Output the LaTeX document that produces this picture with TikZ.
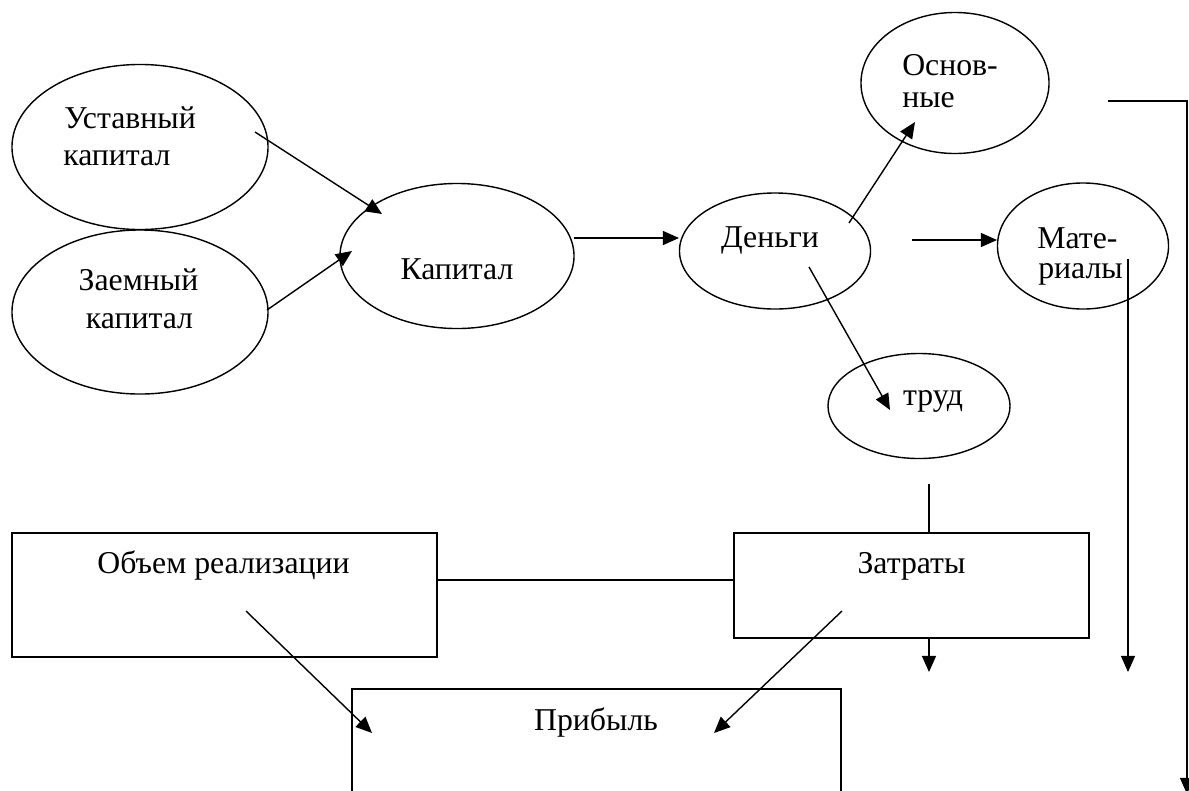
\documentclass[tikz,border=0pt]{standalone}
\usepackage{fontspec}
\setmainfont{Liberation Serif}
\usetikzlibrary{shapes.geometric,arrows.meta}
\begin{document}
\begin{tikzpicture}[x=0.025cm,y=-0.025cm,
  oval/.style={draw,ellipse,line width=1pt,inner sep=0pt,outer sep=0pt},
  box/.style={draw,rectangle,line width=1.25pt,inner sep=0pt,outer sep=0pt},
  txt/.style={inner sep=0pt,font=\fontsize{22.6}{26}\selectfont},
  link/.style={line width=1pt},
  arrow/.style={link,-{Triangle[length=11.5pt,width=10pt]}}]
\useasboundingbox (0,0) rectangle (1189,790);

% ---- ovals ----
\node[oval,minimum width=6.4cm,minimum height=4.125cm]   (ust)  at (140,147) {};
\node[oval,minimum width=6.4cm,minimum height=4.1cm]     (zaem) at (140,312) {};
\node[oval,minimum width=5.85cm,minimum height=3.625cm]  (kap)  at (457,256) {};
\node[oval,minimum width=4.775cm,minimum height=2.9cm]   (den)  at (775,251) {};
\node[oval,minimum width=4.7cm,minimum height=3.525cm]   (osn)  at (955,83)  {};
\node[oval,minimum width=4.275cm,minimum height=3.15cm]  (mat)  at (1083,246) {};
\node[oval,minimum width=4.55cm,minimum height=2.625cm]  (trud) at (919,406) {};

% ---- boxes ----
\node[box,minimum width=10.625cm,minimum height=3.1cm]   (obj)  at (224.5,595) {};
\node[box,minimum width=8.875cm,minimum height=2.625cm]  (zat)  at (911.5,585.5) {};
\node[box,minimum width=12.225cm,minimum height=4cm]     (prib) at (596.5,769) {};

% ---- texts ----
\node[txt,anchor=base west] (tust1) at (64,128) {Уставный};
\node[txt,anchor=base west] (tust2) at (63,165) {капитал};
\node[txt,anchor=base] (tzaem1) at (138.5,290) {Заемный};
\node[txt,anchor=base] (tzaem2) at (139.5,328) {капитал};
\node[txt,anchor=base] (tkap) at (457,279) {Капитал};
\node[txt,anchor=base] (tden) at (770,247) {Деньги};
\node[txt,anchor=base west] (tosn1) at (902,75) {Основ-};
\node[txt,anchor=base west] (tosn2) at (902,107) {ные};
\node[txt,anchor=base west] (tmat1) at (1037,248) {Мате-};
\node[txt,anchor=base west] (tmat2) at (1038,278) {риалы};
\node[txt,anchor=base] (ttrud) at (933,405) {труд};
\node[txt,anchor=base] (tobj) at (223.5,573) {Объем реализации};
\node[txt,anchor=base] (tzat) at (911.5,573) {Затраты};
\node[txt,anchor=base] (tprib) at (596,730) {Прибыль};

% ---- connector end points ----
\coordinate (a1) at (255,132);  \coordinate (a1e) at (382,214);
\coordinate (a2) at (267,310);  \coordinate (a2e) at (352,251);
\coordinate (a3) at (574,238);  \coordinate (a3e) at (679,238);
\coordinate (a4) at (849,223);  \coordinate (a4e) at (915,122);
\coordinate (a5) at (912,240);  \coordinate (a5e) at (997,240);
\coordinate (a6) at (809,267);  \coordinate (a6e) at (890,410);
\coordinate (m1) at (1128,259); \coordinate (m1e) at (1128,672);
\coordinate (r1) at (1108,101); \coordinate (r2) at (1187,101); \coordinate (r2e) at (1187,794);
\coordinate (t1) at (929,484);
\coordinate (z1) at (929,638);  \coordinate (z1e) at (929,672);
\coordinate (p1) at (246,611);  \coordinate (p1e) at (372,733);
\coordinate (p2) at (842,611);  \coordinate (p2e) at (714,733);

% ---- connectors ----
\draw[arrow] (a1) -- (a1e);
\draw[arrow] (a2) -- (a2e);
\draw[arrow] (a3) -- (a3e);
\draw[arrow] (a4) -- (a4e);
\draw[arrow] (a5) -- (a5e);
\draw[arrow] (a6) -- (a6e);
\draw[arrow] (m1) -- (m1e);
\draw[arrow] (r1) -- (r2) -- (r2e);
\draw[link] (t1) -- (zat.north -| t1);
\draw[link] (obj.east |- 0,580) -- (zat.west |- 0,580);
\draw[arrow] (z1) -- (z1e);
\draw[arrow] (p1) -- (p1e);
\draw[arrow] (p2) -- (p2e);
\end{tikzpicture}
\end{document}
